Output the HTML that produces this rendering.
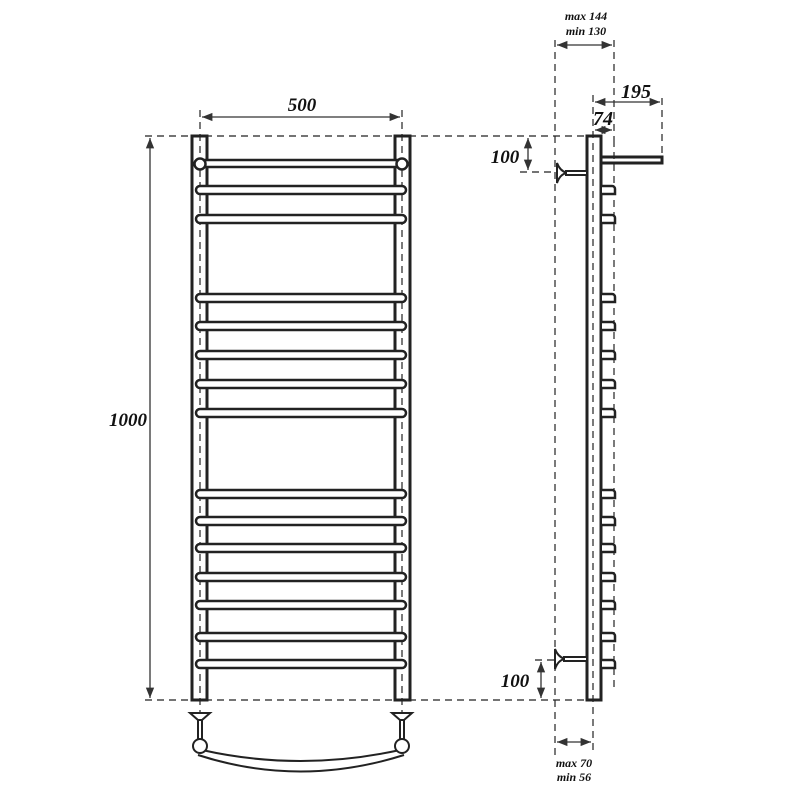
<!DOCTYPE html>
<html><head><style>body{margin:0;background:#fff}svg{display:block}</style></head><body>
<svg width="800" height="800" viewBox="0 0 800 800" xmlns="http://www.w3.org/2000/svg">
<defs>
<marker id="a" viewBox="0 0 10 10" refX="10" refY="5" markerWidth="8" markerHeight="8" orient="auto-start-reverse"><path d="M0,1 L10,5 L0,9 z" fill="#333"/></marker>
</defs>
<g fill="none" stroke="#222" stroke-width="1.2" stroke-dasharray="7,5">
<line x1="145" y1="136" x2="595" y2="136"/>
<line x1="145" y1="700" x2="595" y2="700"/>
<line x1="200" y1="110" x2="200" y2="720"/>
<line x1="402" y1="110" x2="402" y2="720"/>
<line x1="555" y1="40" x2="555" y2="755"/>
<line x1="614" y1="40" x2="614" y2="140"/>
<line x1="614" y1="140" x2="614" y2="690"/>
<line x1="593" y1="95" x2="593" y2="755"/>
<line x1="662" y1="98" x2="662" y2="158"/>
<line x1="520" y1="172" x2="555" y2="172"/>
<line x1="535" y1="660" x2="555" y2="660"/>
</g>
<g stroke="#333" stroke-width="1.3" fill="none">
<line x1="202" y1="117" x2="400" y2="117" marker-start="url(#a)" marker-end="url(#a)"/>
<line x1="150" y1="138" x2="150" y2="698" marker-start="url(#a)" marker-end="url(#a)"/>
<line x1="557" y1="45" x2="612" y2="45" marker-start="url(#a)" marker-end="url(#a)"/>
<line x1="595" y1="102" x2="660" y2="102" marker-start="url(#a)" marker-end="url(#a)"/>
<line x1="595" y1="130" x2="612" y2="130" marker-start="url(#a)" marker-end="url(#a)"/>
<line x1="528" y1="138" x2="528" y2="170" marker-start="url(#a)" marker-end="url(#a)"/>
<line x1="541" y1="662" x2="541" y2="698" marker-start="url(#a)" marker-end="url(#a)"/>
<line x1="557" y1="742" x2="591" y2="742" marker-start="url(#a)" marker-end="url(#a)"/>
</g>
<g stroke="#222" stroke-width="3" fill="none">
<rect x="192" y="136" width="15" height="564"/>
<rect x="395" y="136" width="15" height="564"/>
<rect x="587" y="136" width="14" height="564"/>
<rect x="601" y="157" width="61" height="6"/>
</g>
<g stroke="#222" stroke-width="2.5" fill="#fff">
<rect x="205" y="160" width="192" height="7"/>
<circle cx="200" cy="164" r="5.5"/><circle cx="402" cy="164" r="5.5"/>
<rect x="196" y="186" width="210" height="8" rx="4"/>
<rect x="196" y="215" width="210" height="8" rx="4"/>
<rect x="196" y="294" width="210" height="8" rx="4"/>
<rect x="196" y="322" width="210" height="8" rx="4"/>
<rect x="196" y="351" width="210" height="8" rx="4"/>
<rect x="196" y="380" width="210" height="8" rx="4"/>
<rect x="196" y="409" width="210" height="8" rx="4"/>
<rect x="196" y="490" width="210" height="8" rx="4"/>
<rect x="196" y="517" width="210" height="8" rx="4"/>
<rect x="196" y="544" width="210" height="8" rx="4"/>
<rect x="196" y="573" width="210" height="8" rx="4"/>
<rect x="196" y="601" width="210" height="8" rx="4"/>
<rect x="196" y="633" width="210" height="8" rx="4"/>
<rect x="196" y="660" width="210" height="8" rx="4"/>
</g>
<g stroke="#222" stroke-width="2.5" fill="#fff">
<path d="M602,186h10a3,3 0 0 1 3,3v5h-13"/>
<path d="M602,215h10a3,3 0 0 1 3,3v5h-13"/>
<path d="M602,294h10a3,3 0 0 1 3,3v5h-13"/>
<path d="M602,322h10a3,3 0 0 1 3,3v5h-13"/>
<path d="M602,351h10a3,3 0 0 1 3,3v5h-13"/>
<path d="M602,380h10a3,3 0 0 1 3,3v5h-13"/>
<path d="M602,409h10a3,3 0 0 1 3,3v5h-13"/>
<path d="M602,490h10a3,3 0 0 1 3,3v5h-13"/>
<path d="M602,517h10a3,3 0 0 1 3,3v5h-13"/>
<path d="M602,544h10a3,3 0 0 1 3,3v5h-13"/>
<path d="M602,573h10a3,3 0 0 1 3,3v5h-13"/>
<path d="M602,601h10a3,3 0 0 1 3,3v5h-13"/>
<path d="M602,633h10a3,3 0 0 1 3,3v5h-13"/>
<path d="M602,660h10a3,3 0 0 1 3,3v5h-13"/>
</g>
<g stroke="#222" stroke-width="2" fill="#fff">
<path d="M557,163 L557,183 Q560,174 567,173 Q560,171 557,163 Z"/>
<rect x="566" y="171" width="21" height="4"/>
<path d="M555,649 L555,669 Q558,660 565,659 Q558,657 555,649 Z"/>
<rect x="564" y="657" width="23" height="4"/>
<path d="M190,713 L210,713 L202,720 L198,720 Z"/>
<path d="M392,713 L412,713 L404,720 L400,720 Z"/>
<rect x="198" y="720" width="4" height="20"/>
<rect x="400" y="720" width="4" height="20"/>
<path d="M202,750 Q300,772 400,750" stroke-width="2" fill="none"/>
<path d="M198,755 Q300,788 404,755" stroke-width="2" fill="none"/>
<circle cx="200" cy="746" r="7"/>
<circle cx="402" cy="746" r="7"/>
</g>
<g font-family="Liberation Serif, serif" font-style="italic" font-weight="bold" fill="#111">
<text x="302" y="111" font-size="19" text-anchor="middle">500</text>
<text x="128" y="426" font-size="19" text-anchor="middle">1000</text>
<text x="505" y="163" font-size="19" text-anchor="middle">100</text>
<text x="515" y="687" font-size="19" text-anchor="middle">100</text>
<text x="636" y="98" font-size="20" text-anchor="middle">195</text>
<text x="603" y="125" font-size="20" text-anchor="middle">74</text>
<text x="586" y="20" font-size="12" text-anchor="middle">max 144</text>
<text x="586" y="35" font-size="12" text-anchor="middle">min 130</text>
<text x="574" y="767" font-size="12" text-anchor="middle">max 70</text>
<text x="574" y="781" font-size="12" text-anchor="middle">min 56</text>
</g>
</svg>
</body></html>
